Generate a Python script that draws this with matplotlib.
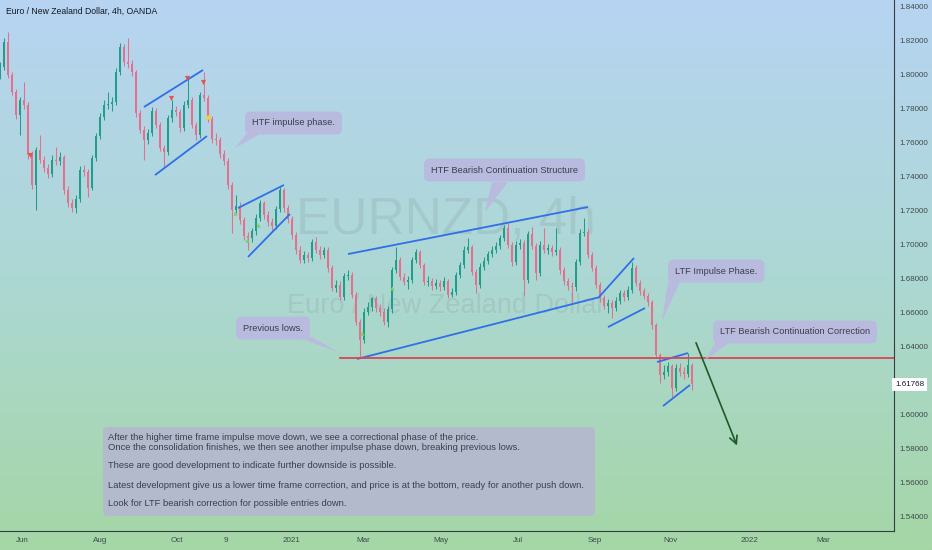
import numpy as np
import matplotlib.pyplot as plt
from matplotlib.patches import Polygon, FancyBboxPatch
from matplotlib.colors import LinearSegmentedColormap
from matplotlib.transforms import IdentityTransform

plt.rcParams['font.family'] = ['Liberation Sans', 'DejaVu Sans']

# EURNZD 4h candles (one bar per slot)
first_open = 1.8000
closes = [
    1.8047, 1.8194, 1.7999, 1.7899, 1.7764, 1.7852, 1.7823, 1.7528, 1.7352, 1.7558,
    1.7499, 1.7452, 1.7416, 1.7499, 1.7493, 1.7516, 1.7322, 1.7246, 1.7216, 1.7269,
    1.7440, 1.7428, 1.7334, 1.7511, 1.7640, 1.7752, 1.7823, 1.7829, 1.7840, 1.8017,
    1.8164, 1.8076, 1.8064, 1.8017, 1.7776, 1.7676, 1.7617, 1.7658, 1.7787, 1.7705,
    1.7570, 1.7546, 1.7746, 1.7793, 1.7782, 1.7687, 1.7823, 1.7852, 1.7705, 1.7646,
    1.7882, 1.7864, 1.7740, 1.7623, 1.7617, 1.7534, 1.7493, 1.7352, 1.7204, 1.7228,
    1.7145, 1.7051, 1.7039, 1.7081, 1.7157, 1.7246, 1.7175, 1.7134, 1.7110, 1.7210,
    1.7322, 1.7216, 1.7151, 1.7057, 1.6969, 1.6910, 1.6939, 1.6922, 1.7016, 1.6969,
    1.6939, 1.6969, 1.6863, 1.6745, 1.6763, 1.6692, 1.6816, 1.6821, 1.6704, 1.6545,
    1.6439, 1.6604, 1.6633, 1.6686, 1.6627, 1.6604, 1.6545, 1.6621, 1.6851, 1.6910,
    1.6810, 1.6780, 1.6792, 1.6910, 1.6957, 1.6880, 1.6780, 1.6786, 1.6757, 1.6774,
    1.6751, 1.6786, 1.6704, 1.6721, 1.6821, 1.6880, 1.6969, 1.6986, 1.6839, 1.6763,
    1.6869, 1.6904, 1.6945, 1.6969, 1.6992, 1.7039, 1.7098, 1.6998, 1.6898, 1.6998,
    1.7010, 1.6792, 1.7063, 1.6992, 1.6833, 1.6998, 1.6969, 1.6981, 1.6957, 1.6969,
    1.6851, 1.6786, 1.6757, 1.6751, 1.6898, 1.7069, 1.7075, 1.6939, 1.6863, 1.6763,
    1.6686, 1.6639, 1.6657, 1.6627, 1.6668, 1.6715, 1.6692, 1.6733, 1.6863, 1.6774,
    1.6727, 1.6698, 1.6662, 1.6527, 1.6350, 1.6232, 1.6250, 1.6285, 1.6156, 1.6274,
    1.6250, 1.6238, 1.6291, 1.61768,
]
highs = [
    1.8075, 1.8215, 1.8253, 1.8020, 1.7915, 1.7870, 1.7958, 1.7840, 1.7550, 1.7575,
    1.7646, 1.7525, 1.7475, 1.7530, 1.7575, 1.7545, 1.7530, 1.7345, 1.7270, 1.7290,
    1.7465, 1.7470, 1.7445, 1.7530, 1.7660, 1.7775, 1.7850, 1.7899, 1.7870, 1.8040,
    1.8188, 1.8180, 1.8217, 1.8090, 1.8030, 1.7795, 1.7700, 1.7680, 1.7810, 1.7805,
    1.7720, 1.7590, 1.7765, 1.7852, 1.7815, 1.7800, 1.7845, 1.7988, 1.7870, 1.7725,
    1.7900, 1.8017, 1.7880, 1.7760, 1.7660, 1.7635, 1.7560, 1.7510, 1.7370, 1.7290,
    1.7250, 1.7165, 1.7075, 1.7100, 1.7180, 1.7265, 1.7260, 1.7200, 1.7160, 1.7230,
    1.7340, 1.7335, 1.7235, 1.7170, 1.7075, 1.6990, 1.6965, 1.6960, 1.7035, 1.7045,
    1.6990, 1.6986, 1.6985, 1.6880, 1.6790, 1.6785, 1.6835, 1.6851, 1.6840, 1.6720,
    1.6560, 1.6625, 1.6660, 1.6692, 1.6700, 1.6650, 1.6625, 1.6640, 1.6870, 1.6986,
    1.6930, 1.6835, 1.6815, 1.6930, 1.6975, 1.6969, 1.6895, 1.6815, 1.6805, 1.6800,
    1.6790, 1.6810, 1.6800, 1.6745, 1.6840, 1.6900, 1.6990, 1.7039, 1.7000, 1.6855,
    1.6890, 1.6925, 1.6965, 1.6990, 1.7015, 1.7060, 1.7115, 1.7128, 1.7015, 1.7020,
    1.7035, 1.7025, 1.7080, 1.7104, 1.7010, 1.7020, 1.7098, 1.7005, 1.7000, 1.7098,
    1.6985, 1.6870, 1.6805, 1.6780, 1.6915, 1.7090, 1.7157, 1.7095, 1.6960, 1.6880,
    1.6780, 1.6705, 1.6680, 1.6675, 1.6690, 1.6735, 1.6735, 1.6755, 1.6898, 1.6880,
    1.6795, 1.6745, 1.6715, 1.6675, 1.6540, 1.6365, 1.6290, 1.6310, 1.6300, 1.6300,
    1.6305, 1.6280, 1.6361, 1.6305,
]
lows = [
    1.7975, 1.8030, 1.7980, 1.7880, 1.7740, 1.7646, 1.7800, 1.7505, 1.7330, 1.7204,
    1.7480, 1.7430, 1.7390, 1.7400, 1.7470, 1.7470, 1.7300, 1.7225, 1.7195, 1.7187,
    1.7250, 1.7405, 1.7281, 1.7320, 1.7495, 1.7625, 1.7735, 1.7800, 1.7790, 1.7825,
    1.8000, 1.8050, 1.8040, 1.7995, 1.7755, 1.7655, 1.7499, 1.7595, 1.7640, 1.7690,
    1.7550, 1.7458, 1.7530, 1.7725, 1.7760, 1.7665, 1.7670, 1.7805, 1.7685, 1.7617,
    1.7630, 1.7845, 1.7720, 1.7600, 1.7590, 1.7510, 1.7470, 1.7330, 1.7069, 1.7185,
    1.7120, 1.7030, 1.6969, 1.7015, 1.7060, 1.7140, 1.7150, 1.7110, 1.7080, 1.7095,
    1.7195, 1.7195, 1.7130, 1.7035, 1.6945, 1.6890, 1.6895, 1.6900, 1.6905, 1.6950,
    1.6915, 1.6920, 1.6840, 1.6725, 1.6720, 1.6674, 1.6675, 1.6795, 1.6685, 1.6525,
    1.6333, 1.6420, 1.6585, 1.6610, 1.6605, 1.6580, 1.6525, 1.6514, 1.6600, 1.6835,
    1.6790, 1.6760, 1.6740, 1.6775, 1.6890, 1.6860, 1.6760, 1.6755, 1.6735, 1.6740,
    1.6730, 1.6735, 1.6685, 1.6692, 1.6705, 1.6805, 1.6865, 1.6950, 1.6820, 1.6716,
    1.6745, 1.6850, 1.6885, 1.6925, 1.6950, 1.6975, 1.7020, 1.6980, 1.6875, 1.6880,
    1.6975, 1.6704, 1.6775, 1.6975, 1.6792, 1.6815, 1.6950, 1.6945, 1.6935, 1.6940,
    1.6830, 1.6765, 1.6735, 1.6662, 1.6730, 1.6880, 1.7050, 1.6920, 1.6845, 1.6745,
    1.6665, 1.6620, 1.6598, 1.6568, 1.6610, 1.6650, 1.6670, 1.6675, 1.6715, 1.6755,
    1.6705, 1.6680, 1.6640, 1.6505, 1.6330, 1.6185, 1.6210, 1.6225, 1.6103, 1.6140,
    1.6225, 1.6210, 1.6220, 1.6144,
]
opens = [first_open] + closes[:-1]

price_ticks = [1.84, 1.82, 1.80, 1.78, 1.76, 1.74, 1.72, 1.70, 1.68,
               1.66, 1.64, 1.60, 1.58, 1.56, 1.54]
time_tick_pos = [5.5, 25, 44.25, 56.5, 73, 90.75, 110.25, 129.5, 148.75, 167.75, 187.5, 205.75]
time_tick_labels = ['Jun', 'Aug', 'Oct', '9', '2021', 'Mar', 'May', 'Jul', 'Sep', 'Nov', '2022', 'Mar']

# drawn trend lines: (bar, price) -> (bar, price)
trend_lines = [
    ((36.0, 1.7811), (50.75, 1.8029)),
    ((38.75, 1.7410), (51.75, 1.7640)),
    ((59.5, 1.7216), (71.0, 1.7352)),
    ((62.0, 1.6928), (72.5, 1.7181)),
    ((87.0, 1.6945), (147.0, 1.7222)),
    ((89.25, 1.6327), (150.0, 1.6692)),
    ((149.75, 1.6692), (158.5, 1.6922)),
    ((152.0, 1.6515), (161.25, 1.6627)),
    ((164.25, 1.6309), (172.0, 1.6362)),
    ((165.75, 1.6050), (172.5, 1.6174)),
]
previous_low = 1.6333
previous_low_start = 85
arrow_start = (173.75, 1.6438)
arrow_end = (184.5, 1.5802)

# indicator flags seen on the chart
red_flags_x = [7.5, 42.75, 46.75, 50.75]
red_flags_y = [1.7528, 1.7864, 1.7982, 1.7958]
yellow_x = [52]
yellow_y = [1.7752]
green_x = [58.75, 61.75, 64.5, 90.5, 98]
green_y = [1.7187, 1.7028, 1.7116, 1.6480, 1.6745]

callouts = [
    ("HTF impulse phase.", (63, 1.7717),
     [(61.75, 1.7658), (65.5, 1.7658), (58.75, 1.7570)]),
    ("HTF Bearish Continuation Structure", (107.75, 1.7440),
     [(123, 1.7369), (127, 1.7369), (121.25, 1.7193)]),
    ("LTF Impulse Phase.", (168.75, 1.6845),
     [(167, 1.6780), (170, 1.6780), (165.5, 1.6551)]),
    ("LTF Bearish Continuation Correction", (180, 1.6486),
     [(179, 1.6427), (182.5, 1.6427), (176.25, 1.6321)]),
    ("Previous lows.", (60.75, 1.6509),
     [(74.5, 1.6456), (78, 1.6456), (85, 1.6362)]),
]

note_lines = [
    "After the higher time frame impulse move down, we see a correctional phase of the price.",
    "Once the consolidation finishes, we then see another impulse phase down, breaking previous lows.",
    "These are good development to indicate further downside is possible.",
    "Latest development give us a lower time frame correction, and price is at the bottom, ready for another push down.",
    "Look for LTF bearish correction for possible entries down.",
]

UP = '#1f9e89'
DOWN = '#e66f8e'
BLUE = '#2f6fe8'
CALLOUT = '#b9bbde'
TEXT = '#3b3f4c'

W, H = 932, 550
fig = plt.figure(figsize=(W / 100, H / 100), dpi=100)

# gradient background over whole figure
bg = fig.add_axes([0, 0, 1, 1], zorder=-10)
cmap = LinearSegmentedColormap.from_list('bg', ['#b7d4f2', '#acd8d4', '#a5d6a6'])
bg.imshow(np.linspace(0, 1, 256).reshape(-1, 1), aspect='auto', cmap=cmap,
          extent=[0, 1, 0, 1])
bg.axis('off')

ax = fig.add_axes([0, 19 / H, 894 / W, 531 / H])
ax.patch.set_alpha(0)
ax.set_xlim(0, 223.5)
ax.set_ylim(1.5314, 1.84412)

o = np.array(opens)
c = np.array(closes)
hi = np.array(highs)
lo = np.array(lows)
idx = np.arange(len(c))
col = np.where(c >= o, UP, DOWN)
ax.vlines(idx, lo, hi, colors=col, lw=0.75, zorder=3)
ax.bar(idx, np.maximum(np.abs(c - o), 0.0004), bottom=np.minimum(o, c),
       width=0.6, color=col, lw=0, zorder=3)

# watermark
ax.text(111.5, 1.7065, 'EURNZD, 4h', ha='center', va='baseline', fontsize=37,
        color='#7d8f92', alpha=0.2, zorder=1)
ax.text(111.5, 1.6598, 'Euro / New Zealand Dollar', ha='center', va='baseline',
        fontsize=19.5, color='#7d8f92', alpha=0.2, zorder=1)

for (x0, y0), (x1, y1) in trend_lines:
    ax.plot([x0, x1], [y0, y1], color=BLUE, lw=1.3, zorder=4, solid_capstyle='butt')

ax.plot([previous_low_start, 223.5], [previous_low, previous_low], color='#d9445a',
        lw=1.3, zorder=4)

ax.annotate('', xy=arrow_end, xytext=arrow_start,
            arrowprops=dict(arrowstyle='->', color='#1e5a28', lw=1.2,
                            mutation_scale=14), zorder=5)

ax.scatter(red_flags_x, red_flags_y, marker='v', s=14, color='#e0554f', zorder=5, lw=0)
ax.scatter(yellow_x, yellow_y, marker='o', s=10, color='#f2d21b', zorder=5, lw=0)
ax.scatter(green_x, green_y, marker='^', s=10, color='#7ccf6a', zorder=5, lw=0)

for label, (tx, ty), tail in callouts:
    ax.add_patch(Polygon(tail, closed=True, fc=CALLOUT, ec='none', zorder=6))
    ax.text(tx, ty, label, ha='left', va='center', fontsize=6.7, color=TEXT, zorder=7,
            bbox=dict(boxstyle='round,pad=0.75,rounding_size=0.6', fc=CALLOUT, ec='none'))

# note box (pixel layout)
note_box = FancyBboxPatch((103, H - 516), 492, 89,
                          boxstyle='round,pad=0,rounding_size=5',
                          transform=IdentityTransform(), fc='#b3bacb', ec='none', zorder=8)
fig.add_artist(note_box)
for line, ypx in zip(note_lines, [437, 448, 466, 485, 504]):
    fig.text(108 / W, 1 - ypx / H, line, ha='left', va='center', fontsize=6.75,
             color=TEXT, zorder=9)

# axes styling
for side in ['top', 'left']:
    ax.spines[side].set_visible(False)
for side in ['right', 'bottom']:
    ax.spines[side].set_color('#34403f')
    ax.spines[side].set_linewidth(0.8)
ax.yaxis.tick_right()
ax.set_yticks(price_ticks)
ax.set_yticklabels([f'{p:.5f}' for p in price_ticks])
ax.set_xticks(time_tick_pos)
ax.set_xticklabels(time_tick_labels)
ax.tick_params(axis='both', length=0, labelsize=5.8, labelcolor='#3e4a4a')
ax.tick_params(axis='y', pad=4)
ax.tick_params(axis='x', pad=4)

ax.text(1 + 1 / 894, closes[-1], f'{closes[-1]:.5f}', transform=ax.get_yaxis_transform(),
        ha='left', va='center', fontsize=5.8, color='#131722', zorder=10,
        bbox=dict(boxstyle='square,pad=0.35', fc='white', ec='none'))

fig.text(6 / W, 1 - 11 / H, 'Euro / New Zealand Dollar, 4h, OANDA', ha='left',
         va='center', fontsize=6.2, color='#131722')

fig.savefig('out.png', dpi=100)
